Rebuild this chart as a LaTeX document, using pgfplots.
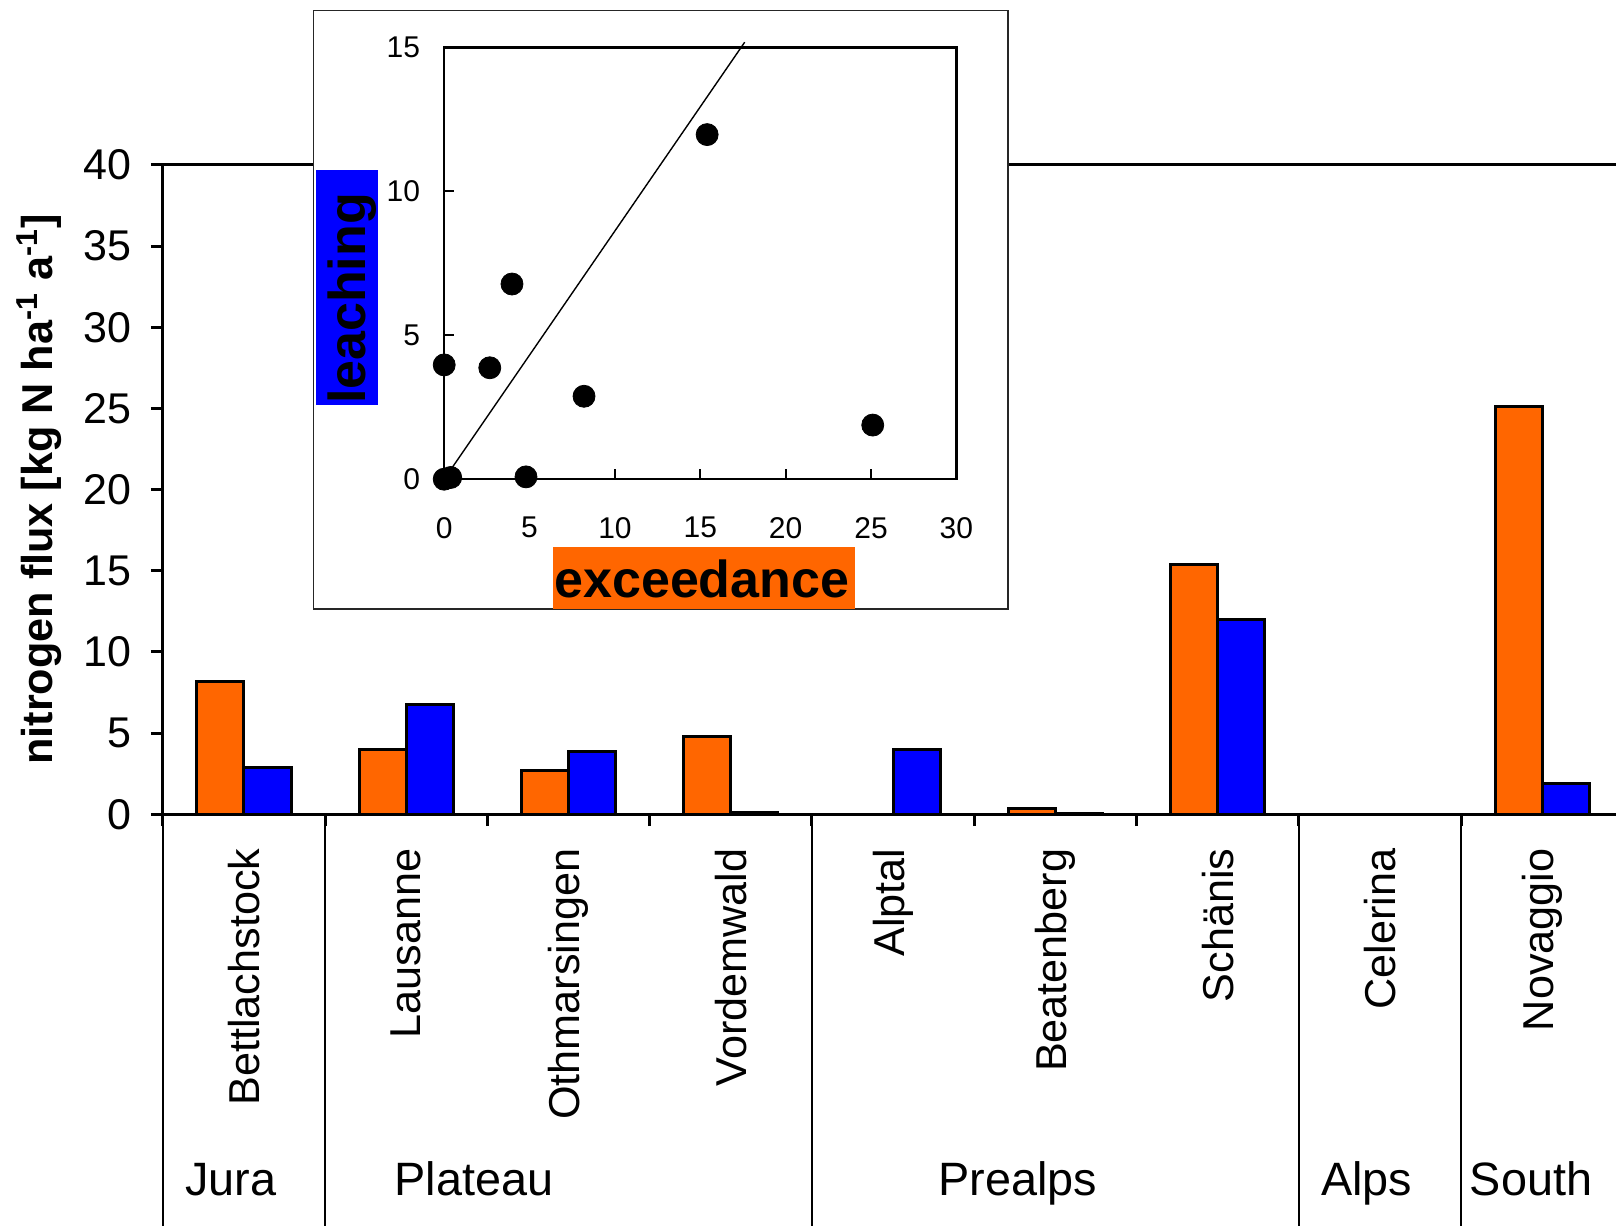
\documentclass[border=0pt]{standalone}
\usepackage{pgfplots}
\pgfplotsset{compat=1.18}
\usepackage{pgfplotstable}
\usepackage{fontspec}
\setmainfont{Liberation Sans}
\definecolor{myorange}{HTML}{FF6600}
\definecolor{myblue}{HTML}{0000FF}
\pgfplotsset{/pgf/number format/assume math mode=true}

\pgfplotstableread{
x exc leach
0.5 8.19 2.88
1.5 3.97 6.78
2.5 2.67 3.87
3.5 4.79 0.08
4.5 0 3.97
5.5 0.38 0.06
6.5 15.4 11.97
7.5 0 0
8.5 25.1 1.88
}\data

\begin{document}
\begin{tikzpicture}
\useasboundingbox (0,0) rectangle (808pt,613pt);
% main bar chart
\begin{axis}[
  at={(81.4pt,205.9pt)}, anchor=south west,
  scale only axis, width=726.6pt, height=324.65pt,
  xmin=0, xmax=8.954, ymin=0, ymax=40,
  axis line style={draw=none},
  clip=false,
  ytick={0,5,...,40},
  xtick={0,1,...,8},
  xticklabels={},
  extra x ticks={0.5,1.5,...,8.5},
  extra x tick labels={Bettlachstock,Lausanne,Othmarsingen,Vordemwald,Alptal,Beatenberg,Schänis,Celerina,Novaggio},
  extra x tick style={tick style={draw=none},
    xticklabel style={rotate=90, anchor=east, inner sep=0pt, font=\fontsize{21.6}{26}\selectfont},
    xticklabel shift=11pt},
  tick align=outside, xtick pos=bottom, ytick pos=left,
  major tick length=6pt,
  tick style={black, line width=1.5pt},
  yticklabel style={anchor=east, inner sep=0pt, font=\fontsize{21.5}{26}\selectfont},
  yticklabel shift=9.5pt,
  every axis y label/.style={at={(rel axis cs:0,0.5)}, rotate=90, anchor=center, yshift=61.9pt,
    font=\bfseries\fontsize{21.6}{26}\selectfont},
  ylabel={nitrogen flux [kg N ha\textsuperscript{-1} a\textsuperscript{-1}]},
]
\addplot[ybar, bar width=0.29, bar shift=-0.145, fill=myorange, draw=black, line width=1.5pt] table[x=x, y=exc] {\data};
\addplot[ybar, bar width=0.29, bar shift=0.145, fill=myblue, draw=black, line width=1.5pt] table[x=x, y=leach] {\data};
\draw[line width=1.6pt] (rel axis cs:0,0) -- (rel axis cs:0,1);
\draw[line width=1.6pt] (rel axis cs:0,0) -- (rel axis cs:1,0);
\draw[line width=1.5pt] (rel axis cs:0,1) -- (rel axis cs:1,1);
\pgfplotsinvokeforeach{0,1,4,7,8}{\draw[line width=0.8pt] (axis cs:#1,0) -- ++(0pt,-206pt);}
\end{axis}
% group labels
\begin{scope}[every node/.style={anchor=base, inner sep=0pt, font=\fontsize{23.4}{28}\selectfont}]
\node at (115.4pt,15.25pt) {Jura};
\node at (237pt,15.25pt) {Plateau};
\node at (508.9pt,15.25pt) {Prealps};
\node at (683.3pt,15.25pt) {Alps};
\node at (765.5pt,15.25pt) {South};
\end{scope}
% inset frame
\filldraw[fill=white, draw=black!85, line width=0.75pt] (156.65pt,308.45pt) rectangle (503.95pt,607.85pt);
\begin{axis}[
  at={(222.1pt,373.4pt)}, anchor=south west,
  scale only axis, width=256.1pt, height=215.9pt,
  xmin=0, xmax=30, ymin=0, ymax=15,
  xtick={0,5,...,30}, ytick={0,5,10,15},
  tick align=inside, xtick pos=bottom, ytick pos=left,
  major tick length=5pt,
  tick style={black, line width=1pt},
  axis line style={line width=1.2pt},
  clip=false,
  xticklabel style={anchor=center, inner sep=0pt, yshift=-24.25pt, font=\fontsize{15}{18}\selectfont},
  yticklabel style={anchor=east, inner sep=0pt, xshift=-11.85pt, font=\fontsize{15}{18}\selectfont},
]
\addplot[black, line width=0.7pt] coordinates {(0,0) (17.6,15.18)};
\addplot[only marks, mark=*, mark size=5.5pt, black] table[x=exc, y=leach] {\data};
\end{axis}
\node[fill=myblue, rotate=90, inner ysep=0pt, inner xsep=0.5pt, text width=116.5pt, align=left, text height=25.1pt, text depth=6pt,
  font=\bfseries\fontsize{26}{31}\selectfont] at (173.4pt,469.25pt) {leaching};
\node[fill=myorange, inner ysep=0pt, inner xsep=0.5pt, text width=150pt, align=left, text height=25.1pt, text depth=6pt,
  font=\bfseries\fontsize{26}{31}\selectfont] at (352.2pt,323.9pt) {exceedance};
\end{tikzpicture}
\end{document}
